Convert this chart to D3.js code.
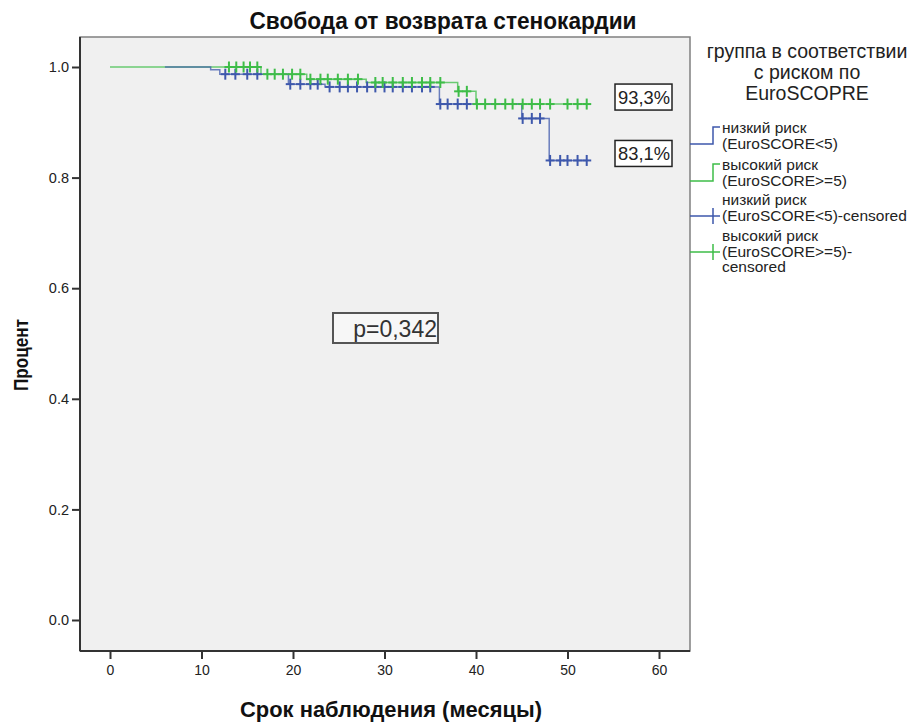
<!DOCTYPE html>
<html>
<head>
<meta charset="utf-8">
<script src="https://cdn.jsdelivr.net/npm/d3@7"></script>
<style>
  body { margin: 0; background: #fff; }
  text { font-family: "Liberation Sans", Arial, sans-serif; }
</style>
</head>
<body>
<svg id="chart" width="919" height="724"></svg>
<script>
// Kaplan-Meier steps (months, survival)
const lowRiskTime = [6, 11, 12, 19.5, 23.5, 36, 45, 48, 52.1];
const lowRiskSurv = [1, 0.995, 0.987, 0.969, 0.964, 0.933, 0.907, 0.831, 0.831];
const lowRiskCensored = [12.6, 13.7, 15, 16.1, 19.7, 20.8, 21.9, 22.7, 24, 25.1, 26, 27, 28.1, 29, 30, 30.9, 32, 33, 34.1, 35,
    36.1, 36.9, 38, 39, 45.1, 46.1, 47, 48.1, 49.2, 50, 51.1, 52.1];

const highRiskTime = [0, 16.5, 21.5, 28, 38, 40, 52.1];
const highRiskSurv = [1, 0.987, 0.978, 0.972, 0.956, 0.933, 0.933];
const highRiskCensored = [13, 13.8, 14.6, 15.3, 16.1, 17.2, 18, 18.9, 19.9, 20.8, 21.9, 23, 23.8, 24.9, 26, 27.1,
    29, 29.8, 30.9, 32, 33, 34.1, 35, 36.1, 38.1, 39, 40.1, 41, 42.1, 43.2, 44, 45.1, 46.1, 47, 48.1, 50, 51.1, 52.1];

const xTicks = [0, 10, 20, 30, 40, 50, 60];
const yTicks = [0, 0.2, 0.4, 0.6, 0.8, 1.0];
const endLabels = ['93,3%', '83,1%'];
const pValue = 'p=0,342';
const legendTitle = ['группа в соответствии', 'с риском по', 'EuroSCOPRE'];
const legendItems = [
    {lines: ['низкий риск', '(EuroSCORE<5)'], kind: 'step', color: '#3e58ac'},
    {lines: ['высокий риск', '(EuroSCORE>=5)'], kind: 'step', color: '#3ebd48'},
    {lines: ['низкий риск', '(EuroSCORE<5)-censored'], kind: 'cross', color: '#3e58ac'},
    {lines: ['высокий риск', '(EuroSCORE>=5)-', 'censored'], kind: 'cross', color: '#3ebd48'}
];

const blue = '#3e58ac', green = '#3ebd48';
const plot = {left: 80, right: 690, top: 37, bottom: 651};

const svg = d3.select('#chart');

const x = d3.scaleLinear().domain([0, 60]).range([110, 659]);
const y = d3.scaleLinear().domain([0, 1]).range([620, 67]);

const survAt = (times, surv, t) => {
    let v = surv[0];
    times.forEach((tt, i) => { if (tt <= t) v = surv[i]; });
    return v;
};

// plot area
svg.append('rect')
    .attr('x', plot.left).attr('y', plot.top)
    .attr('width', plot.right - plot.left).attr('height', plot.bottom - plot.top)
    .attr('fill', '#f0f0f0').attr('stroke', '#808080').attr('stroke-width', 1.5);

// axes
const xAxis = d3.axisBottom(x).tickValues(xTicks).tickSize(8).tickSizeOuter(0);
const gx = svg.append('g')
    .attr('transform', `translate(0, ${plot.bottom})`)
    .call(xAxis);
gx.select('.domain').attr('d', `M${plot.left},0H${plot.right}`).attr('stroke', '#333').attr('stroke-width', 2);
gx.selectAll('.tick line').attr('stroke', '#333').attr('stroke-width', 2);
gx.selectAll('.tick text').attr('font-size', 14).attr('fill', '#222').attr('dy', '0.95em')
    .attr('font-family', '"Liberation Sans", Arial');

const yAxis = d3.axisLeft(y).tickValues(yTicks).tickSize(8).tickSizeOuter(0).tickFormat(d3.format('.1f'));
const gy = svg.append('g')
    .attr('transform', `translate(${plot.left}, 0)`)
    .call(yAxis);
gy.select('.domain').attr('d', `M0,${plot.top}V${plot.bottom}`).attr('stroke', '#333').attr('stroke-width', 2);
gy.selectAll('.tick line').attr('stroke', '#333').attr('stroke-width', 2);
gy.selectAll('.tick text').attr('font-size', 14.5).attr('fill', '#222').attr('x', -11)
    .attr('font-family', '"Liberation Sans", Arial');

// step curves
const line = d3.line().x(d => x(d[0])).y(d => y(d[1])).curve(d3.curveStepAfter);

const drawCurve = (times, surv, color) => {
    svg.append('path')
        .datum(times.map((t, i) => [t, surv[i]]))
        .attr('d', line)
        .attr('fill', 'none')
        .attr('stroke', color)
        .attr('stroke-opacity', 0.75)
        .attr('stroke-width', 1.5);
};
drawCurve(highRiskTime, highRiskSurv, green);
drawCurve(lowRiskTime, lowRiskSurv, blue);

const drawCensors = (cens, times, surv, color) => {
    const g = svg.append('g').attr('stroke', color).attr('stroke-width', 2);
    cens.forEach(t => {
        const cx = x(t), cy = y(survAt(times, surv, t));
        g.append('line').attr('x1', cx).attr('x2', cx).attr('y1', cy - 5.5).attr('y2', cy + 5.5);
        g.append('line').attr('x1', cx - 4.5).attr('x2', cx + 4.5).attr('y1', cy).attr('y2', cy);
    });
};
drawCensors(lowRiskCensored, lowRiskTime, lowRiskSurv, blue);
drawCensors(highRiskCensored, highRiskTime, highRiskSurv, green);

// end labels
const endVals = [highRiskSurv[highRiskSurv.length - 1], lowRiskSurv[lowRiskSurv.length - 1]];
endLabels.forEach((lab, i) => {
    const cy = y(endVals[i]) - 7;
    svg.append('rect').attr('x', 615).attr('y', cy - 13).attr('width', 57).attr('height', 26)
        .attr('fill', '#fff').attr('stroke', '#222').attr('stroke-width', 1.5);
    svg.append('text').attr('x', 670).attr('y', cy + 7).attr('text-anchor', 'end')
        .attr('font-size', 19).attr('fill', '#222').attr('textLength', 52).attr('lengthAdjust', 'spacingAndGlyphs')
        .text(lab);
});

// p-value box
svg.append('rect').attr('x', 333).attr('y', 313).attr('width', 105).attr('height', 30)
    .attr('fill', '#f7f7f7').attr('stroke', '#555').attr('stroke-width', 2);
svg.append('text').attr('x', 437).attr('y', 337).attr('text-anchor', 'end')
    .attr('font-size', 23).attr('fill', '#333').text(pValue);

// titles
svg.append('text').attr('x', 443).attr('y', 29).attr('text-anchor', 'middle')
    .attr('font-weight', 'bold').attr('font-size', 23).attr('fill', '#111')
    .attr('textLength', 387).attr('lengthAdjust', 'spacingAndGlyphs')
    .text('Свобода от возврата стенокардии');
svg.append('text').attr('x', 391).attr('y', 717).attr('text-anchor', 'middle')
    .attr('font-weight', 'bold').attr('font-size', 22).attr('fill', '#111')
    .attr('textLength', 302).attr('lengthAdjust', 'spacingAndGlyphs')
    .text('Срок наблюдения (месяцы)');
svg.append('text').attr('transform', 'translate(28, 355) rotate(-90)').attr('text-anchor', 'middle')
    .attr('font-weight', 'bold').attr('font-size', 21).attr('fill', '#111')
    .attr('textLength', 72).attr('lengthAdjust', 'spacingAndGlyphs')
    .text('Процент');

// legend
legendTitle.forEach((t, i) => {
    svg.append('text').attr('x', 807).attr('y', 58 + i * 21).attr('text-anchor', 'middle')
        .attr('font-size', 19.5).attr('fill', '#222').text(t);
});

const itemBaselines = [133, 170, 205, 241];
legendItems.forEach((item, k) => {
    const g = svg.append('g');
    const b = itemBaselines[k];
    if (item.kind === 'step') {
        g.append('path').attr('d', `M${plot.right},${b + 11}H713V${b - 6}H720`)
            .attr('fill', 'none').attr('stroke', item.color).attr('stroke-width', 1.5);
    } else {
        const sy = b + 11;
        g.append('path').attr('d', `M${plot.right},${sy}H720M713,${sy - 8}V${sy + 8}`)
            .attr('fill', 'none').attr('stroke', item.color).attr('stroke-width', 1.5);
    }
    item.lines.forEach((l, j) => {
        g.append('text').attr('x', 722).attr('y', b + j * 15.5)
            .attr('font-size', 15.5).attr('fill', '#222').text(l);
    });
});
</script>
</body>
</html>
